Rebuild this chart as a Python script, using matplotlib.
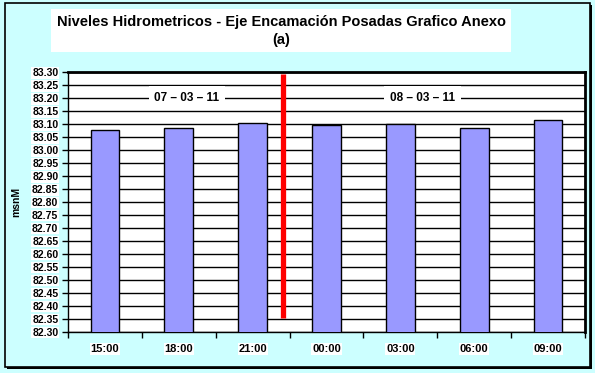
import numpy as np
import matplotlib.pyplot as plt
from matplotlib.patches import Rectangle

horas = ['15:00', '18:00', '21:00', '00:00', '03:00', '06:00', '09:00']
niveles = [83.077, 83.084, 83.104, 83.095, 83.100, 83.084, 83.115]
fechas = ['07 – 03 – 11', '08 – 03 – 11']
fecha_x = [1.11, 4.30]
y_min, y_max, y_paso = 82.30, 83.30, 0.05

plt.rcParams['font.family'] = ['Liberation Sans', 'DejaVu Sans']
plt.rcParams['font.weight'] = 'bold'

fig = plt.figure(figsize=(5.95, 3.73), dpi=100)
fig.patch.set_facecolor('#ccffff')

# marco exterior con sombra
fig.add_artist(Rectangle((0.008, 0.017), 0.984, 0.975, transform=fig.transFigure,
                         fill=False, edgecolor='black', lw=1.2))
fig.add_artist(Rectangle((0.011, 0.012), 0.984, 0.004, transform=fig.transFigure,
                         color='black', lw=0))
fig.add_artist(Rectangle((0.991, 0.012), 0.004, 0.975, transform=fig.transFigure,
                         color='black', lw=0))

ax = fig.add_axes([68 / 595, 1 - 331.5 / 373, 517 / 595, 259.5 / 373])
ax.set_facecolor('white')

x = np.arange(len(horas))
ax.bar(x, niveles, width=0.39, color='#9999ff', edgecolor='black', lw=1, zorder=3)

ticks = np.round(np.arange(y_min, y_max + 1e-6, y_paso), 2)
ax.set_ylim(y_min, y_max)
ax.set_xlim(-0.5, len(horas) - 0.5)
ax.set_yticks(ticks)
ax.set_yticklabels(['%.2f' % t for t in ticks], fontsize=7.5, fontweight='bold')
for t in ticks:
    ax.axhline(t, color='black', lw=1, zorder=1)

ax.set_xticks(np.arange(-0.5, len(horas), 1))
ax.set_xticklabels([])
ax.set_xticks(x, minor=True)
ax.set_xticklabels(horas, minor=True, fontsize=8, fontweight='bold')
ax.tick_params(axis='x', which='minor', length=0, pad=9)
ax.tick_params(axis='x', which='major', length=4, width=1, direction='out')
ax.tick_params(axis='y', length=4, width=1, direction='out', pad=3)
for lbl in ax.get_yticklabels() + ax.get_xticklabels(minor=True):
    lbl.set_bbox(dict(facecolor='white', edgecolor='none', pad=0.5))

for s in ax.spines.values():
    s.set_color('black')
    s.set_linewidth(1)
ax.spines['top'].set_linewidth(2)
ax.spines['right'].set_linewidth(2)

# linea divisoria entre dias
ax.plot([2.405, 2.405], [82.352, 83.293], color='red', lw=3.8, zorder=4,
        solid_capstyle='butt')

for fx, f in zip(fecha_x, fechas):
    ax.text(fx, 83.20, f, ha='center', va='center', fontsize=8.5, fontweight='heavy',
            zorder=5, bbox=dict(facecolor='white', edgecolor='none', pad=4))

ax.set_ylabel('msnM', fontsize=7.5, fontweight='bold', labelpad=8)

fig.text(0.473, 0.918, 'Niveles Hidrometricos - Eje Encamación Posadas Grafico Anexo\n(a)',
         ha='center', va='center', fontsize=10.5, fontweight='bold', linespacing=1.35,
         bbox=dict(facecolor='white', edgecolor='none', pad=4))

fig.savefig('out.png', dpi=100, facecolor=fig.get_facecolor())
